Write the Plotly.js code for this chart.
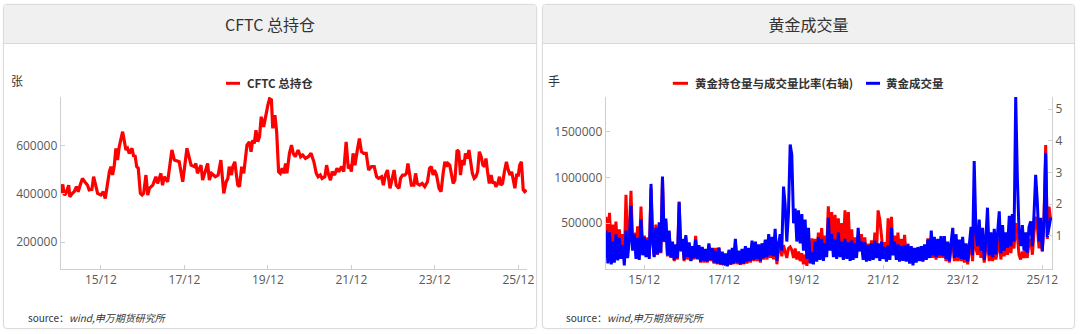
<!DOCTYPE html>
<html>
<head>
<meta charset="utf-8">
<script src="https://cdn.plot.ly/plotly-3.0.1.min.js"></script>
<style>
  html, body { margin:0; padding:0; background:#fff; }
  body { width:1080px; height:334px; position:relative; overflow:hidden; }
  .panel { position:absolute; top:4px; height:325px; border:1px solid #dcdcdc; border-radius:4px;
           box-shadow:0 0 2px rgba(0,0,0,0.08); background:#fff; box-sizing:border-box; overflow:hidden; }
  .hdr { height:38px; line-height:38px; background:#f0f0f0; border-bottom:1px solid #d9d9d9; text-align:center;
         font-family:"Noto Sans CJK SC","Noto Sans",sans-serif; font-size:16px; color:#333; }
  #chart { position:absolute; left:0; top:0; width:1080px; height:334px; }
</style>
</head>
<body>
<div class="panel" style="left:3px;width:534px;"><div class="hdr">CFTC 总持仓</div></div>
<div class="panel" style="left:542px;width:533px;"><div class="hdr">黄金成交量</div></div>
<div id="chart"></div>
<script>
// ---------- axis ticks ----------
const tickDates  = ['2015-12-01','2017-12-01','2019-12-01','2021-12-01','2023-12-01','2025-12-01'];
const tickLabels = ['15/12','17/12','19/12','21/12','23/12','25/12'];
const oiTicks    = [200000, 400000, 600000];
const volTicks   = [500000, 1000000, 1500000];
const ratioTicks = [1, 2, 3, 4, 5];

// ---------- CFTC total open interest ----------
const cftcDates = [
'2014-12-13',
'2015-01-01','2015-01-14','2015-01-29','2015-02-22','2015-03-04','2015-03-26','2015-04-11','2015-05-01','2015-05-16','2015-06-02','2015-06-22','2015-07-16','2015-08-06','2015-08-20','2015-09-13','2015-09-28','2015-10-12','2015-11-02','2015-12-01','2015-12-21',
'2016-01-08','2016-01-28','2016-02-13','2016-02-27','2016-03-12','2016-03-26','2016-04-10','2016-04-25','2016-05-09','2016-06-08','2016-06-22','2016-07-07','2016-07-21','2016-08-05','2016-08-29','2016-09-13','2016-09-24','2016-10-09','2016-10-23','2016-11-10','2016-11-25','2016-12-09','2016-12-29',
'2017-01-14','2017-01-28','2017-02-27','2017-03-26','2017-04-10','2017-05-09','2017-05-23','2017-06-07','2017-07-07','2017-08-13','2017-09-04','2017-10-16','2017-11-16','2017-12-23',
'2018-01-28','2018-02-26','2018-03-11','2018-03-25','2018-04-25','2018-05-09','2018-06-22','2018-07-07','2018-07-26','2018-08-28','2018-09-22','2018-10-16','2018-11-10','2018-12-01','2018-12-16','2018-12-28',
'2019-01-16','2019-01-28','2019-02-15','2019-02-27','2019-03-13','2019-03-28','2019-04-16','2019-05-04','2019-05-16','2019-06-01','2019-06-22','2019-07-07','2019-07-22','2019-08-04','2019-08-19','2019-09-04','2019-09-19','2019-10-04','2019-10-25','2019-11-10','2019-12-01','2019-12-16',
'2020-01-01','2020-01-13','2020-02-01','2020-02-16','2020-03-04','2020-03-19','2020-04-04','2020-04-19','2020-05-04','2020-05-16','2020-06-07','2020-06-25','2020-07-10','2020-07-28','2020-08-22','2020-09-13','2020-10-01','2020-10-25','2020-11-19','2020-12-13',
'2021-01-07','2021-01-28','2021-02-13','2021-03-04','2021-03-19','2021-04-13','2021-04-28','2021-05-16','2021-06-01','2021-06-16','2021-07-07','2021-07-28','2021-08-13','2021-09-07','2021-09-25','2021-10-16','2021-11-04','2021-11-19','2021-12-01','2021-12-16',
'2022-01-01','2022-01-22','2022-02-09','2022-02-27','2022-03-19','2022-04-10','2022-05-01','2022-05-25','2022-06-19','2022-07-10','2022-07-28','2022-08-22','2022-09-07','2022-09-25','2022-10-13','2022-11-04','2022-11-22','2022-12-10','2022-12-28',
'2023-01-22','2023-02-04','2023-02-22','2023-03-13','2023-03-28','2023-04-10','2023-04-25','2023-05-10','2023-06-01','2023-06-16','2023-07-01','2023-07-22','2023-08-13','2023-09-04','2023-09-28','2023-10-16','2023-11-01','2023-11-16','2023-11-28','2023-12-16',
'2024-01-07','2024-01-25','2024-02-12','2024-02-27','2024-03-13','2024-03-25','2024-04-10','2024-04-25','2024-05-10','2024-05-25','2024-06-13','2024-06-28','2024-07-13','2024-07-28','2024-08-13','2024-08-25','2024-09-10','2024-09-25','2024-10-10','2024-10-25','2024-11-10','2024-11-25','2024-12-10','2024-12-25',
'2025-01-10','2025-01-25','2025-02-09','2025-02-21','2025-03-07','2025-03-22','2025-04-07','2025-04-22','2025-05-04','2025-05-19','2025-06-04','2025-06-19','2025-07-01','2025-07-16','2025-08-01','2025-08-19','2025-09-04','2025-09-19','2025-10-04','2025-10-19','2025-11-01','2025-11-16','2025-12-01','2025-12-13','2025-12-28',
'2026-01-13','2026-01-25','2026-02-10'
];
const cftcOI = [
402000,
439000,395000,402000,436000,388000,402000,409000,430000,409000,436000,464000,448000,436000,416000,418000,471000,448000,402000,395000,409000,
381000,443000,492000,513000,478000,513000,589000,540000,595000,658000,623000,582000,589000,568000,589000,554000,561000,513000,506000,402000,395000,402000,478000,
395000,423000,436000,471000,443000,485000,436000,471000,450000,582000,540000,533000,450000,589000,
519000,513000,526000,485000,519000,457000,526000,457000,485000,471000,478000,540000,402000,450000,464000,513000,
478000,513000,533000,485000,436000,430000,513000,485000,526000,602000,616000,575000,623000,609000,664000,616000,637000,720000,678000,720000,768000,795000,
790000,672000,727000,658000,492000,485000,506000,485000,526000,485000,568000,602000,568000,554000,582000,554000,561000,547000,554000,568000,
533000,485000,471000,478000,464000,471000,519000,478000,457000,492000,478000,506000,492000,513000,492000,616000,506000,513000,492000,568000,
519000,582000,630000,575000,568000,568000,499000,513000,513000,471000,464000,471000,436000,478000,499000,423000,457000,499000,436000,
423000,464000,478000,478000,485000,526000,478000,436000,436000,485000,443000,436000,443000,430000,450000,506000,513000,478000,499000,478000,
423000,409000,485000,533000,513000,526000,519000,478000,443000,457000,582000,575000,478000,540000,519000,568000,547000,582000,519000,485000,464000,471000,492000,575000,
554000,519000,513000,547000,492000,443000,478000,443000,450000,430000,443000,471000,436000,443000,492000,533000,499000,478000,492000,450000,423000,478000,478000,519000,533000,
416000,409000,416000
];

// ---------- gold volume & OI/volume ratio ----------
const volDates = [
'2014-12-16',
'2015-01-01','2015-01-16','2015-02-01','2015-02-16','2015-03-01','2015-03-16','2015-04-01','2015-04-16','2015-05-01','2015-05-16','2015-06-01','2015-06-16','2015-07-01','2015-07-16','2015-08-01','2015-08-16','2015-09-01','2015-09-16','2015-10-01','2015-10-16','2015-11-01','2015-11-16','2015-12-01','2015-12-16',
'2016-01-01','2016-01-16','2016-02-01','2016-02-16','2016-03-01','2016-03-16','2016-04-01','2016-04-16','2016-05-01','2016-05-16','2016-06-01','2016-06-16','2016-07-01','2016-07-16','2016-08-01','2016-08-16','2016-09-01','2016-09-16','2016-10-01','2016-10-16','2016-11-01','2016-11-16','2016-12-01','2016-12-16',
'2017-01-01','2017-01-16','2017-02-01','2017-02-16','2017-03-01','2017-03-16','2017-04-01','2017-04-16','2017-05-01','2017-05-16','2017-06-01','2017-06-16','2017-07-01','2017-07-16','2017-08-01','2017-08-16','2017-09-01','2017-09-16','2017-10-01','2017-10-16','2017-11-01','2017-11-16','2017-12-01','2017-12-16',
'2018-01-01','2018-01-16','2018-02-01','2018-02-16','2018-03-01','2018-03-16','2018-04-01','2018-04-16','2018-05-01','2018-05-16','2018-06-01','2018-06-16','2018-07-01','2018-07-16','2018-08-01','2018-08-16','2018-09-01','2018-09-16','2018-10-01','2018-10-16','2018-11-01','2018-11-16','2018-12-01','2018-12-16',
'2019-01-01','2019-01-16','2019-02-01','2019-02-16','2019-03-01','2019-03-16','2019-04-01','2019-04-16','2019-05-01','2019-05-16','2019-06-01','2019-06-16','2019-07-01','2019-07-16','2019-08-01','2019-08-16','2019-09-01','2019-09-16','2019-10-01','2019-10-16','2019-11-01','2019-11-16','2019-12-01','2019-12-16',
'2020-01-01','2020-01-16','2020-02-01','2020-02-16','2020-03-01','2020-03-16','2020-04-01','2020-04-16','2020-05-01','2020-05-16','2020-06-01','2020-06-16','2020-07-01','2020-07-16','2020-08-01','2020-08-16','2020-09-01','2020-09-16','2020-10-01','2020-10-16','2020-11-01','2020-11-16','2020-12-01','2020-12-16',
'2021-01-01','2021-01-16','2021-02-01','2021-02-16','2021-03-01','2021-03-16','2021-04-01','2021-04-16','2021-05-01','2021-05-16','2021-06-01','2021-06-16','2021-07-01','2021-07-16','2021-08-01','2021-08-16','2021-09-01','2021-09-16','2021-10-01','2021-10-16','2021-11-01','2021-11-16','2021-12-01','2021-12-16',
'2022-01-01','2022-01-16','2022-02-01','2022-02-16','2022-03-01','2022-03-16','2022-04-01','2022-04-16','2022-05-01','2022-05-16','2022-06-01','2022-06-16','2022-07-01','2022-07-16','2022-08-01','2022-08-16','2022-09-01','2022-09-16','2022-10-01','2022-10-16','2022-11-01','2022-11-16','2022-12-01','2022-12-16',
'2023-01-01','2023-01-16','2023-02-01','2023-02-16','2023-03-01','2023-03-16','2023-04-01','2023-04-16','2023-05-01','2023-05-16','2023-06-01','2023-06-16','2023-07-01','2023-07-16','2023-08-01','2023-08-16','2023-09-01','2023-09-16','2023-10-01','2023-10-16','2023-11-01','2023-11-16','2023-12-01','2023-12-16',
'2024-01-01','2024-01-16','2024-02-01','2024-02-16','2024-03-01','2024-03-16','2024-04-01','2024-04-16','2024-05-01','2024-05-16','2024-06-01','2024-06-16','2024-07-01','2024-07-16','2024-08-01','2024-08-16','2024-09-01','2024-09-16','2024-10-01','2024-10-16','2024-11-01','2024-11-16','2024-12-01','2024-12-16',
'2025-01-01','2025-01-16','2025-02-01','2025-02-16','2025-03-01','2025-03-16','2025-04-01','2025-04-16','2025-05-01','2025-05-16','2025-06-01','2025-06-16','2025-07-01','2025-07-16','2025-08-01','2025-08-16','2025-09-01','2025-09-16','2025-10-01','2025-10-16','2025-11-01','2025-11-16','2025-12-01','2025-12-16',
'2026-01-01','2026-01-16','2026-02-01','2026-02-16'
];
const goldVolume = [
420000,
60000,400000,50000,300000,70000,380000,95000,340000,110000,260000,40000,420000,120000,300000,690000,200000,380000,110000,340000,100000,540000,150000,350000,130000,
320000,110000,930000,300000,130000,450000,160000,510000,180000,1010000,300000,550000,150000,420000,130000,300000,100000,270000,120000,730000,200000,330000,100000,370000,
130000,290000,90000,250000,120000,320000,110000,260000,80000,240000,90000,220000,80000,280000,100000,230000,70000,200000,60000,230000,50000,190000,40000,170000,
30000,210000,50000,230000,60000,330000,70000,200000,50000,220000,60000,250000,80000,230000,90000,310000,100000,300000,110000,270000,90000,280000,120000,320000,
130000,380000,150000,350000,140000,440000,90000,260000,380000,200000,900000,700000,300000,600000,1360000,1250000,500000,660000,300000,640000,280000,600000,200000,540000,
110000,450000,60000,180000,50000,300000,80000,350000,100000,330000,90000,280000,130000,560000,200000,380000,130000,320000,110000,400000,130000,300000,100000,330000,
110000,290000,90000,310000,100000,280000,120000,450000,200000,300000,100000,290000,80000,260000,90000,280000,100000,310000,120000,280000,90000,300000,110000,240000,
80000,260000,100000,450000,150000,300000,100000,270000,80000,250000,90000,260000,80000,270000,60000,250000,40000,230000,70000,240000,90000,250000,80000,270000,
100000,320000,120000,420000,150000,350000,130000,330000,150000,360000,140000,360000,110000,300000,90000,280000,450000,120000,380000,130000,320000,110000,350000,100000,
280000,80000,300000,460000,150000,1180000,400000,250000,540000,200000,450000,100000,330000,670000,150000,400000,130000,440000,160000,380000,630000,170000,480000,200000,
400000,230000,580000,250000,600000,300000,1880000,1000000,420000,250000,480000,200000,400000,180000,460000,520000,250000,600000,1030000,740000,300000,560000,200000,500000,
1270000,350000,480000,560000
];
const goldRatio = [
1.6,
0.45,1.72,0.4,1.35,0.5,1.45,0.45,1.2,0.5,1.05,0.3,2.29,0.6,1.1,2.42,0.8,1.1,0.5,1.3,0.45,1.92,0.55,1.0,0.4,
0.95,0.35,2.5,0.8,0.35,1.35,0.4,1.3,0.45,2.8,0.8,1.45,0.35,1.1,0.3,0.75,0.2,0.7,0.25,2.08,0.5,0.85,0.2,0.95,
0.25,0.75,0.2,0.65,0.25,1.0,0.25,0.65,0.15,0.6,0.15,0.55,0.15,0.7,0.2,0.6,0.12,0.62,0.1,0.63,0.08,0.45,0.06,0.4,
0.05,0.5,0.08,0.55,0.1,0.8,0.1,0.45,0.08,0.5,0.1,0.6,0.12,0.55,0.15,0.75,0.2,0.7,0.2,0.65,0.15,0.75,0.25,0.85,
0.25,0.9,0.3,0.8,0.25,1.0,0.1,0.55,0.8,0.35,0.7,0.5,0.3,0.6,0.65,0.55,0.3,0.6,0.25,0.5,0.2,0.45,0.1,0.4,
0.05,0.5,0.15,0.92,0.3,0.9,0.35,1.1,0.4,1.24,0.45,1.0,0.5,1.93,0.8,1.75,0.7,1.66,0.6,1.55,0.5,1.4,0.6,1.8,
0.7,1.75,0.5,1.2,0.45,0.95,0.4,1.0,0.5,1.05,0.35,0.95,0.3,0.75,0.25,0.85,0.3,1.1,0.4,1.8,1.5,1.0,0.4,0.8,
0.3,1.55,0.6,1.6,0.5,1.0,0.4,1.1,0.35,0.9,0.3,1.03,0.3,0.75,0.2,0.65,0.15,0.6,0.2,0.6,0.2,0.65,0.2,0.7,
0.25,0.92,0.3,0.9,0.3,0.8,0.25,0.75,0.3,0.8,0.3,0.8,0.2,0.65,0.15,0.6,0.9,0.2,0.8,0.2,0.7,0.2,0.75,0.15,
0.55,0.1,0.6,0.9,0.2,1.3,0.6,0.4,0.9,0.3,0.75,0.15,0.6,0.9,0.2,0.65,0.2,0.75,0.25,0.65,0.9,0.25,0.8,0.35,
0.7,0.4,0.9,0.45,0.95,0.6,1.4,1.0,0.4,0.25,0.5,0.3,0.6,0.3,0.8,0.9,0.4,1.1,1.6,1.3,0.6,1.1,0.5,1.5,
3.86,0.9,1.92,1.5
];

// ---------- figure ----------
const W = 1080, H = 334;
const px = v => v / W;
const py = v => (H - v) / H;
const numFont = '"Open Sans","Noto Sans CJK SC",sans-serif';
const cjkFont = '"Noto Sans CJK SC","Noto Sans",sans-serif';
const tickFont = {family: numFont, size: 12, color: '#595959'};
const yDom = [py(269), py(97)];

const axisCommon = {
  showgrid: false, zeroline: false, showline: true, linecolor: '#cfcfcf', linewidth: 1,
  ticks: 'inside', ticklen: 4, tickcolor: '#cfcfcf', tickfont: tickFont, fixedrange: true
};

const traces = [
  {x: cftcDates, y: cftcOI, name: 'CFTC 总持仓', type: 'scatter', mode: 'lines',
   line: {color: '#ff0000', width: 3.2}, xaxis: 'x', yaxis: 'y', showlegend: false},
  {x: volDates, y: goldRatio, name: '黄金持仓量与成交量比率(右轴)', type: 'scatter', mode: 'lines',
   line: {color: '#ff0000', width: 3}, xaxis: 'x2', yaxis: 'y3', showlegend: false},
  {x: volDates, y: goldVolume, name: '黄金成交量', type: 'scatter', mode: 'lines',
   line: {color: '#0000ff', width: 3}, xaxis: 'x2', yaxis: 'y4', showlegend: false}
];

const layout = {
  width: W, height: H, margin: {l: 0, r: 0, t: 0, b: 0},
  paper_bgcolor: 'rgba(0,0,0,0)', plot_bgcolor: 'rgba(0,0,0,0)',
  showlegend: false,
  font: {family: numFont, color: '#333'},
  xaxis: Object.assign({}, axisCommon, {domain: [px(60.7), px(527)], anchor: 'y', type: 'date',
    range: ['2014-12-14', '2026-02-15'], tickmode: 'array', tickvals: tickDates, ticktext: tickLabels}),
  yaxis: Object.assign({}, axisCommon, {domain: yDom, anchor: 'x', range: [88000, 802000],
    tickmode: 'array', tickvals: oiTicks, ticktext: oiTicks.map(String)}),
  xaxis2: Object.assign({}, axisCommon, {domain: [px(605.7), px(1052)], anchor: 'y3', type: 'date',
    range: ['2014-12-12', '2026-02-28'], tickmode: 'array', tickvals: tickDates, ticktext: tickLabels}),
  yaxis3: Object.assign({}, axisCommon, {domain: yDom, anchor: 'x2', side: 'right', range: [-0.05, 5.38],
    tickmode: 'array', tickvals: ratioTicks, ticktext: ratioTicks.map(String)}),
  yaxis4: Object.assign({}, axisCommon, {anchor: 'x2', overlaying: 'y3', side: 'left', range: [0, 1880000],
    tickmode: 'array', tickvals: volTicks, ticktext: volTicks.map(String)}),
  shapes: [
    {type: 'line', xref: 'paper', yref: 'paper', x0: px(226), x1: px(240), y0: py(83.3), y1: py(83.3), line: {color: '#ff0000', width: 3}},
    {type: 'line', xref: 'paper', yref: 'paper', x0: px(672.8), x1: px(688), y0: py(83.3), y1: py(83.3), line: {color: '#ff0000', width: 3}},
    {type: 'line', xref: 'paper', yref: 'paper', x0: px(866), x1: px(880), y0: py(83.3), y1: py(83.3), line: {color: '#0000ff', width: 3}}
  ],
  annotations: [
    {xref: 'paper', yref: 'paper', x: px(16.5), y: py(80), text: '张', showarrow: false, xanchor: 'center', yanchor: 'middle', font: {family: cjkFont, size: 12, color: '#333'}},
    {xref: 'paper', yref: 'paper', x: px(553.8), y: py(80), text: '手', showarrow: false, xanchor: 'center', yanchor: 'middle', font: {family: cjkFont, size: 12, color: '#333'}},
    {xref: 'paper', yref: 'paper', x: px(244.5), y: py(83.3), text: '<b>' + traces[0].name + '</b>', showarrow: false, xanchor: 'left', yanchor: 'middle', font: {family: cjkFont, size: 11.5, color: '#333'}},
    {xref: 'paper', yref: 'paper', x: px(692.5), y: py(83.3), text: '<b>' + traces[1].name + '</b>', showarrow: false, xanchor: 'left', yanchor: 'middle', font: {family: cjkFont, size: 11.5, color: '#333'}},
    {xref: 'paper', yref: 'paper', x: px(884), y: py(83.3), text: '<b>' + traces[2].name + '</b>', showarrow: false, xanchor: 'left', yanchor: 'middle', font: {family: cjkFont, size: 11.5, color: '#333'}},
    {xref: 'paper', yref: 'paper', x: px(26), y: py(317.5), text: 'source：<i>wind,申万期货研究所</i>', showarrow: false, xanchor: 'left', yanchor: 'middle', font: {family: cjkFont, size: 10, color: '#333'}},
    {xref: 'paper', yref: 'paper', x: px(564), y: py(317.5), text: 'source：<i>wind,申万期货研究所</i>', showarrow: false, xanchor: 'left', yanchor: 'middle', font: {family: cjkFont, size: 10, color: '#333'}}
  ]
};

Plotly.newPlot('chart', traces, layout, {displayModeBar: false, staticPlot: true});
</script>
</body>
</html>
